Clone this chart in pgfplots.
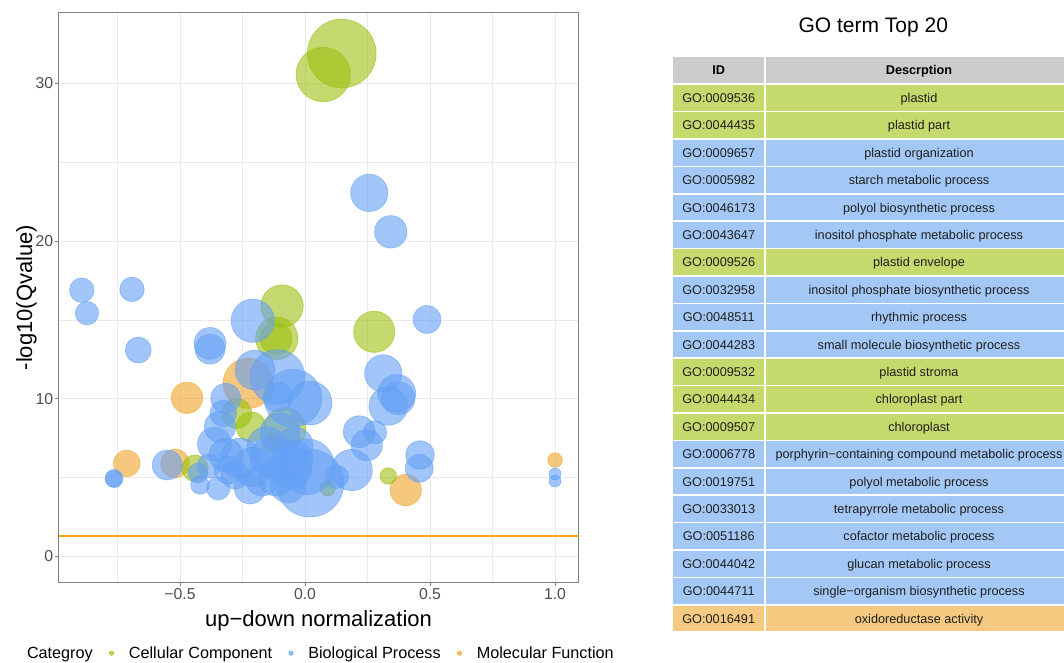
\documentclass[border=0pt]{standalone}
\usepackage{pgfplots}
\pgfplotsset{compat=1.18}
\usepackage{pgfplotstable}
\usepackage{fontspec}
\setmainfont{Liberation Sans}
\definecolor{gC}{HTML}{9CBF10}
\definecolor{bC}{HTML}{64A0F5}
\definecolor{oC}{HTML}{EEA326}
\definecolor{tG}{HTML}{C4DA6C}
\definecolor{tB}{HTML}{A4C8F6}
\definecolor{tO}{HTML}{F5CA80}
\definecolor{hdr}{HTML}{CCCCCC}
\definecolor{gridc}{HTML}{EBEBEB}
\definecolor{axc}{HTML}{7F7F7F}
\definecolor{tickc}{HTML}{4D4D4D}
\definecolor{refC}{RGB}{250,165,30}

\pgfplotstableread{
x y r
-0.227 10.98 25.3
-0.472 10.06 15.7
-0.713 5.90 13.3
-0.520 5.90 14.3
0.403 4.21 15.7
1.000 6.11 7.3
}\orangedata

\pgfplotstableread{
x y r
0.147 31.90 34.5
0.073 30.57 27.3
-0.092 15.88 21.3
-0.113 13.83 21.3
-0.116 13.82 16.0
0.277 14.25 20.7
-0.273 9.07 15.0
-0.216 8.22 15.0
-0.080 8.12 21.0
-0.133 7.17 10.0
-0.440 5.59 13.3
0.333 5.10 8.3
0.091 4.32 7.7
}\greendata

\pgfplotstableread{
x y r
0.257 23.06 18.7
0.343 20.59 16.3
-0.893 16.89 12.3
-0.872 15.43 11.7
-0.692 16.94 12.3
-0.667 13.09 13.0
-0.209 14.95 21.7
0.488 15.03 14.0
-0.380 13.51 16.0
-0.380 13.15 15.0
-0.200 11.82 20.0
-0.110 11.38 27.5
-0.048 10.04 29.0
0.020 9.73 22.0
-0.108 10.11 15.0
-0.317 10.03 15.0
-0.327 9.07 13.3
-0.340 8.22 15.7
-0.100 7.83 20.0
0.313 11.61 18.7
0.367 10.34 19.0
0.373 10.03 16.7
0.333 9.54 19.3
0.217 7.91 16.0
0.280 7.87 11.7
0.247 7.06 15.7
0.460 6.43 14.3
0.457 5.59 14.0
0.187 5.48 20.7
0.020 4.65 34.0
0.127 5.05 11.7
-0.764 4.95 9.0
-0.764 4.91 8.5
-0.551 5.80 15.0
-0.420 4.53 9.3
-0.347 4.32 11.7
-0.220 4.32 15.7
1.000 5.23 6.0
1.000 4.78 6.0
-0.362 7.13 17.0
-0.316 6.43 17.0
-0.384 5.73 12.0
-0.260 6.24 20.0
-0.208 5.67 20.0
-0.140 6.30 20.0
-0.060 5.67 22.0
0.007 5.69 28.0
-0.116 4.97 18.0
-0.172 4.84 16.0
-0.280 5.16 14.0
-0.068 4.53 18.0
-0.308 5.48 14.0
-0.040 7.06 18.0
-0.428 5.29 10.0
-0.153 6.96 20.0
-0.048 6.11 20.0
}\bluedata

\begin{document}
\begin{tikzpicture}[x=1bp,y=1bp]
\useasboundingbox (0,0) rectangle (1064,663);
\begin{axis}[
  at={(58.6bp,80.8bp)}, anchor=south west,
  scale only axis, width=519.9bp, height=569.3bp,
  xmin=-0.9856, xmax=1.094, ymin=-1.636, ymax=34.48,
  xtick={-0.5,0,0.5,1}, xticklabels={−0.5,0.0,0.5,1.0},
  minor xtick={-0.75,-0.25,0.25,0.75},
  ytick={0,10,20,30}, yticklabels={0,10,20,30},
  minor ytick={5,15,25},
  grid=both,
  major grid style={gridc, line width=1bp},
  minor grid style={gridc, line width=0.55bp},
  axis line style={axc, line width=0.9bp},
  tick align=outside, major tick length=4bp, minor tick length=0pt,
  major tick style={axc, line width=0.9bp},
  tick pos=left,
  xticklabel style={font=\fontsize{15.8bp}{18bp}\selectfont, text=tickc, anchor=base, inner sep=0pt, yshift=-13.3bp},
  yticklabel style={font=\fontsize{15.8bp}{18bp}\selectfont, text=tickc, anchor=east, inner sep=0pt, xshift=-1.2bp},
  xlabel={up−down normalization},
  ylabel={-log10(Qvalue)},
  xlabel style={font=\fontsize{22bp}{24bp}\selectfont, at={(axis description cs:0.5,-0.0782)}, anchor=base},
  ylabel style={font=\fontsize{22bp}{24bp}\selectfont, at={(axis description cs:-0.0620,0.5)}, anchor=center},
  legend style={at={(axis description cs:-0.0896,-0.1247)}, anchor=west, draw=none, fill=none,
    legend columns=-1, font=\fontsize{16.2bp}{18bp}\selectfont, inner sep=0pt, outer sep=0pt,
    nodes={inner sep=0pt},
    /tikz/every odd column/.style={column sep=15bp},
    /tikz/every even column/.style={column sep=16.4bp}},
]
\addplot[fill=refC, draw=none, forget plot] coordinates {(-0.9856,1.262) (1.094,1.262) (1.094,1.340) (-0.9856,1.340)} -- cycle;
\addplot[scatter, only marks, mark=*, forget plot,
  scatter/use mapped color={draw=oC, fill=oC},
  visualization depends on={\thisrow{r}\as\rr},
  scatter/@pre marker code/.append style={/tikz/mark size=\rr},
  mark options={fill opacity=0.6, draw opacity=0.6, line width=0.7bp}]
  table[x=x,y=y] {\orangedata};
\addplot[scatter, only marks, mark=*, forget plot,
  scatter/use mapped color={draw=gC, fill=gC},
  visualization depends on={\thisrow{r}\as\rr},
  scatter/@pre marker code/.append style={/tikz/mark size=\rr},
  mark options={fill opacity=0.6, draw opacity=0.6, line width=0.7bp}]
  table[x=x,y=y] {\greendata};
\addplot[scatter, only marks, mark=*, forget plot,
  scatter/use mapped color={draw=bC, fill=bC},
  visualization depends on={\thisrow{r}\as\rr},
  scatter/@pre marker code/.append style={/tikz/mark size=\rr},
  mark options={fill opacity=0.6, draw opacity=0.6, line width=0.7bp}]
  table[x=x,y=y] {\bluedata};
\addlegendimage{empty legend}
\addlegendentry{Categroy}
\addlegendimage{legend image code/.code={\fill[gC, fill opacity=0.7] (0bp,0bp) circle (2.2bp);}}
\addlegendentry{Cellular Component}
\addlegendimage{legend image code/.code={\fill[bC, fill opacity=0.7] (0bp,0bp) circle (2.2bp);}}
\addlegendentry{Biological Process}
\addlegendimage{legend image code/.code={\fill[oC, fill opacity=0.7] (0bp,0bp) circle (2.2bp);}}
\addlegendentry{Molecular Function}
\end{axis}

% title
\node[font=\fontsize{21bp}{24bp}\selectfont, anchor=base] at (873.3,630.3) {GO term Top 20};
% header
\fill[hdr] (673.3,605.7) rectangle (764,579.7);
\fill[hdr] (765.5,605.7) rectangle (1073,579.7);
\node[font=\fontsize{12.7bp}{15bp}\selectfont\bfseries, anchor=base] at (718.7,588.2) {ID};
\node[font=\fontsize{12.7bp}{15bp}\selectfont\bfseries, anchor=base] at (919,588.2) {Descrption};
\foreach \i/\id/\desc/\col in {
 1/GO:0009536/plastid/tG,
 2/GO:0044435/plastid part/tG,
 3/GO:0009657/plastid organization/tB,
 4/GO:0005982/starch metabolic process/tB,
 5/GO:0046173/polyol biosynthetic process/tB,
 6/GO:0043647/inositol phosphate metabolic process/tB,
 7/GO:0009526/plastid envelope/tG,
 8/GO:0032958/inositol phosphate biosynthetic process/tB,
 9/GO:0048511/rhythmic process/tB,
 10/GO:0044283/small molecule biosynthetic process/tB,
 11/GO:0009532/plastid stroma/tG,
 12/GO:0044434/chloroplast part/tG,
 13/GO:0009507/chloroplast/tG,
 14/GO:0006778/porphyrin−containing compound metabolic process/tB,
 15/GO:0019751/polyol metabolic process/tB,
 16/GO:0033013/tetrapyrrole metabolic process/tB,
 17/GO:0051186/cofactor metabolic process/tB,
 18/GO:0044042/glucan metabolic process/tB,
 19/GO:0044711/single−organism biosynthetic process/tB,
 20/GO:0016491/oxidoreductase activity/tO}{
  \pgfmathsetmacro\yt{663-85-(\i-1)*27.4}
  \pgfmathsetmacro\yb{\yt-25.8}
  \pgfmathsetmacro\ybase{\yt-17.5}
  \fill[\col] (673.3,\yt) rectangle (764,\yb);
  \fill[\col] (765.5,\yt) rectangle (1073,\yb);
  \node[font=\fontsize{12.7bp}{15bp}\selectfont, text=black!88, anchor=base] at (718.7,\ybase) {\id};
  \node[font=\fontsize{12.7bp}{15bp}\selectfont, text=black!88, anchor=base] at (919,\ybase) {\desc};
}
\end{tikzpicture}
\end{document}
